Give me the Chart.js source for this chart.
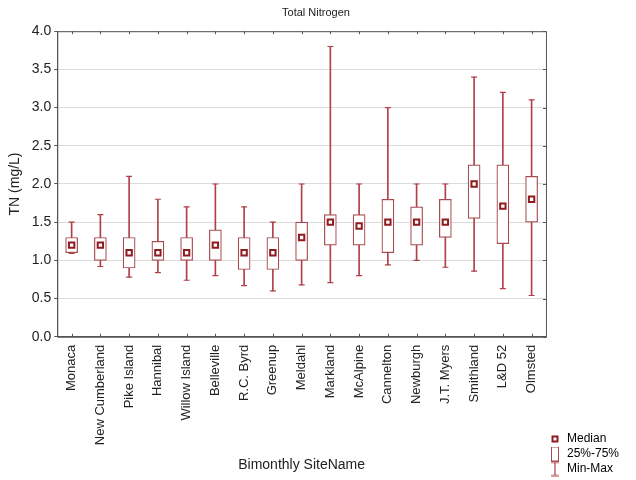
<!DOCTYPE html>
<html>
<head>
<meta charset="utf-8">
<script src="https://cdn.jsdelivr.net/npm/chart.js@4"></script>
<style>
  html, body { margin: 0; padding: 0; background: #fff; }
  #wrap { width: 636px; height: 480px; }
</style>
</head>
<body>
<div id="wrap"><canvas id="tnChart" width="636" height="480"></canvas></div>
<script>
const sites = ['Monaca', 'New Cumberland', 'Pike Island', 'Hannibal', 'Willow Island', 'Belleville',
    'R.C. Byrd', 'Greenup', 'Meldahl', 'Markland', 'McAlpine', 'Cannelton', 'Newburgh',
    'J.T. Myers', 'Smithland', 'L&D 52', 'Olmsted'];
const minVals    = [1.09, 0.92, 0.78, 0.84, 0.74, 0.80, 0.67, 0.60, 0.68, 0.71, 0.80, 0.94, 1.00, 0.91, 0.86, 0.63, 0.54];
const q1Vals     = [1.10, 1.00, 0.90, 1.00, 1.00, 1.00, 0.88, 0.88, 1.00, 1.20, 1.20, 1.10, 1.20, 1.30, 1.55, 1.22, 1.50];
const medianVals = [1.20, 1.20, 1.10, 1.10, 1.10, 1.20, 1.10, 1.10, 1.30, 1.50, 1.45, 1.50, 1.50, 1.50, 2.00, 1.71, 1.80];
const q3Vals     = [1.30, 1.30, 1.30, 1.25, 1.30, 1.40, 1.30, 1.30, 1.50, 1.60, 1.60, 1.80, 1.70, 1.80, 2.25, 2.25, 2.10];
const maxVals    = [1.50, 1.60, 2.10, 1.80, 1.70, 2.00, 1.70, 1.50, 2.00, 3.80, 2.00, 3.00, 2.00, 2.00, 3.40, 3.20, 3.10];
const legendNames = ['Median', '25%-75%', 'Min-Max'];

const whiskerColor = '#b0404a';
const boxColor = '#a84a4f';
const medianColor = '#8e1b20';
const axisColor = '#555555';
const fontFamily = "'Liberation Sans', Arial, sans-serif";

// small icons for the legend
function makeIcon(w, h, draw) {
    const c = document.createElement('canvas');
    c.width = w;
    c.height = h;
    draw(c.getContext('2d'));
    return c;
}
const medianIcon = makeIcon(9, 9, ctx => {
    ctx.strokeStyle = medianColor;
    ctx.lineWidth = 2;
    ctx.strokeRect(2, 2, 5, 5);
});
const boxIcon = makeIcon(10, 15, ctx => {
    ctx.strokeStyle = boxColor;
    ctx.lineWidth = 1;
    ctx.strokeRect(1.5, 0.5, 7, 14);
});
const whiskerIcon = makeIcon(10, 15, ctx => {
    ctx.strokeStyle = whiskerColor;
    ctx.lineWidth = 1.2;
    ctx.beginPath();
    ctx.moveTo(1, 1); ctx.lineTo(9, 1);
    ctx.moveTo(5, 1); ctx.lineTo(5, 14);
    ctx.moveTo(1, 14); ctx.lineTo(9, 14);
    ctx.stroke();
});

// frame around the plot with inward tick marks
const framePlugin = {
    id: 'frame',
    afterDraw(chart) {
        const { ctx, chartArea: a, scales } = chart;
        ctx.save();
        ctx.strokeStyle = axisColor;
        ctx.lineWidth = 1;
        ctx.strokeRect(a.left + 0.5, a.top + 0.5, a.right - a.left, a.bottom - a.top);
        ctx.beginPath();
        scales.x.ticks.forEach((t, i) => {
            const x = Math.round(scales.x.getPixelForTick(i)) + 0.5;
            ctx.moveTo(x, a.top); ctx.lineTo(x, a.top + 3);
            ctx.moveTo(x, a.bottom); ctx.lineTo(x, a.bottom - 3);
        });
        scales.y.ticks.forEach((t, i) => {
            const y = Math.round(scales.y.getPixelForTick(i)) + 0.5;
            ctx.moveTo(a.right, y); ctx.lineTo(a.right - 3, y);
        });
        ctx.stroke();
        ctx.restore();
    }
};

new Chart(document.getElementById('tnChart'), {
    type: 'bar',
    data: {
        labels: sites,
        datasets: [
            {
                type: 'line',
                label: 'Median',
                data: medianVals,
                showLine: false,
                pointStyle: 'rect',
                pointRadius: 3.8,
                pointBorderWidth: 2,
                pointBorderColor: medianColor,
                pointBackgroundColor: '#ffffff',
                order: 0
            },
            {
                type: 'line',
                label: 'Max',
                data: maxVals,
                showLine: false,
                pointStyle: 'line',
                pointRadius: 3,
                pointBorderWidth: 1.2,
                pointBorderColor: whiskerColor,
                order: 1
            },
            {
                type: 'line',
                label: 'Min',
                data: minVals,
                showLine: false,
                pointStyle: 'line',
                pointRadius: 3,
                pointBorderWidth: 1.2,
                pointBorderColor: whiskerColor,
                order: 1
            },
            {
                label: '25%-75%',
                data: sites.map((s, i) => [q1Vals[i], q3Vals[i]]),
                backgroundColor: '#ffffff',
                borderColor: boxColor,
                borderWidth: 1.2,
                borderSkipped: false,
                barThickness: 12,
                grouped: false,
                order: 2
            },
            {
                label: 'Min-Max',
                data: sites.map((s, i) => [minVals[i], maxVals[i]]),
                backgroundColor: whiskerColor,
                borderWidth: 0,
                barThickness: 1,
                grouped: false,
                order: 3
            }
        ]
    },
    options: {
        responsive: false,
        animation: false,
        layout: { padding: { top: 0, right: 7, bottom: 2, left: 3 } },
        plugins: {
            title: {
                display: true,
                text: 'Total Nitrogen',
                color: '#222',
                font: { family: fontFamily, size: 11, weight: 'normal' },
                padding: { top: 6, bottom: 12 }
            },
            legend: {
                position: 'right',
                align: 'end',
                labels: {
                    usePointStyle: true,
                    color: '#222',
                    padding: 3,
                    font: { family: fontFamily, size: 12 },
                    generateLabels: () => legendNames.map((name, i) => ({
                        text: name,
                        pointStyle: [medianIcon, boxIcon, whiskerIcon][i],
                        fillStyle: '#fff',
                        strokeStyle: '#fff',
                        lineWidth: 0,
                        hidden: false,
                        datasetIndex: i
                    }))
                },
                onClick: () => {}
            },
            tooltip: { enabled: false }
        },
        scales: {
            x: {
                offset: true,
                grid: { display: false, drawTicks: false },
                border: { display: true, color: axisColor },
                ticks: {
                    minRotation: 90,
                    maxRotation: 90,
                    padding: 8,
                    color: '#222',
                    font: { family: fontFamily, size: 13 }
                },
                title: {
                    display: true,
                    text: 'Bimonthly SiteName',
                    color: '#222',
                    font: { family: fontFamily, size: 14 },
                    padding: { top: 4, bottom: 4 }
                }
            },
            y: {
                min: 0,
                max: 4,
                grid: { color: '#dcdcdc', tickColor: axisColor, tickLength: 3 },
                border: { display: true, color: axisColor },
                ticks: {
                    stepSize: 0.5,
                    padding: 3,
                    color: '#222',
                    font: { family: fontFamily, size: 14 },
                    callback: v => v.toFixed(1)
                },
                title: {
                    display: true,
                    text: 'TN (mg/L)',
                    color: '#222',
                    font: { family: fontFamily, size: 14 },
                    padding: { top: 4, bottom: 5 }
                }
            }
        }
    },
    plugins: [framePlugin]
});
</script>
</body>
</html>
